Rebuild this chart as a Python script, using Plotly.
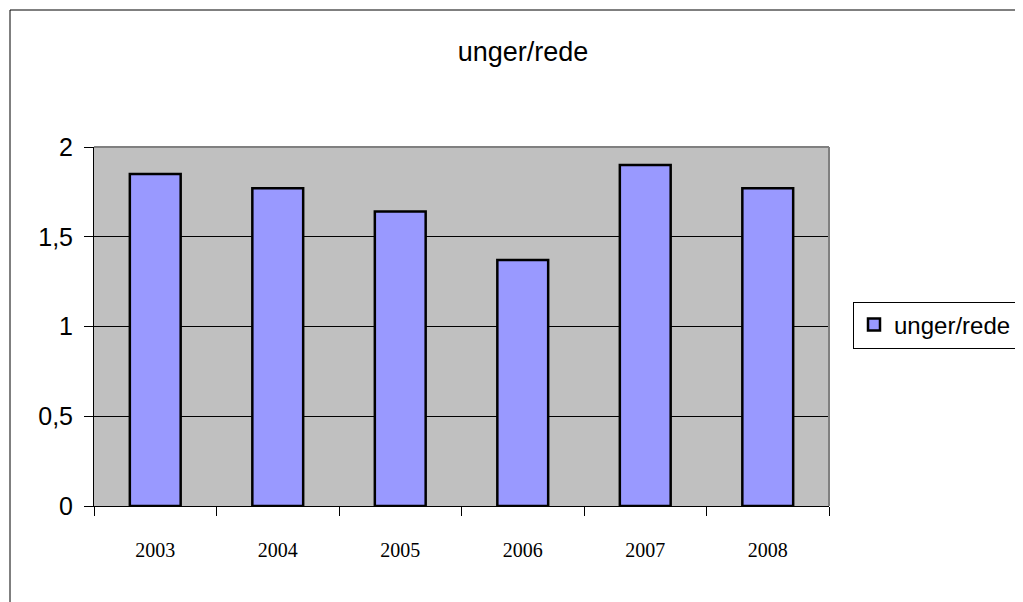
import plotly.graph_objects as go

years = ["2003", "2004", "2005", "2006", "2007", "2008"]
values = [1.85, 1.77, 1.64, 1.37, 1.90, 1.77]
series_name = "unger/rede"
title_text = "unger/rede"

W, H = 1023, 602
OFF = 8  # default page body margin in the browser
# target page pixel positions of the plot area
L, R, T, B = 94, 829, 147, 506

def px(x):
    return (x - L) / (R - L)

def py(y):
    return (B - y) / (B - T)

fig = go.Figure()
fig.add_trace(go.Bar(
    x=years, y=values, name=series_name,
    marker=dict(color="#9999FF", line=dict(color="black", width=2.5)),
    showlegend=True,
))

fig.update_layout(
    width=W, height=H,
    margin=dict(l=L - OFF, r=W - R + OFF, t=T - OFF, b=H - B + OFF, pad=0),
    paper_bgcolor="white",
    plot_bgcolor="#C0C0C0",
    separators=", ",
    bargap=0.585,
    title=dict(text=title_text, x=px(523), xref="paper", xanchor="center",
               y=1 - (52 - OFF) / H, yanchor="middle",
               font=dict(family="Liberation Sans", size=27, color="black")),
    showlegend=True,
    legend=dict(x=px(853), xanchor="left", y=py(325), yanchor="middle",
                bordercolor="black", borderwidth=1, bgcolor="white",
                font=dict(family="Liberation Sans", size=24, color="black")),
    xaxis=dict(type="category", tickson="boundaries", ticks="outside",
               ticklen=9, tickcolor="black", tickwidth=1,
               showline=True, linecolor="black", linewidth=1,
               showgrid=False,
               tickfont=dict(family="Liberation Serif", size=20, color="black"),
               ticklabelstandoff=26),
    yaxis=dict(range=[0, 2], dtick=0.5, tick0=0, ticks="outside",
               ticklen=9, tickcolor="black", tickwidth=1,
               showline=True, linecolor="black", linewidth=1,
               showgrid=True, gridcolor="black", gridwidth=1,
               zeroline=False, ticklabelstandoff=6,
               tickfont=dict(family="Liberation Sans", size=25, color="black")),
    shapes=[
        dict(type="line", xref="paper", yref="paper",
             x0=0, x1=1, y0=1, y1=1, line=dict(color="#808080", width=2)),
        dict(type="line", xref="paper", yref="paper",
             x0=1, x1=1, y0=0, y1=1, line=dict(color="#808080", width=2)),
        dict(type="line", xref="paper", yref="paper",
             x0=px(10), x1=px(1040), y0=py(10), y1=py(10),
             line=dict(color="black", width=1)),
        dict(type="line", xref="paper", yref="paper",
             x0=px(10), x1=px(10), y0=py(10), y1=py(620),
             line=dict(color="black", width=1)),
    ],
)

fig.write_html("out.html")
